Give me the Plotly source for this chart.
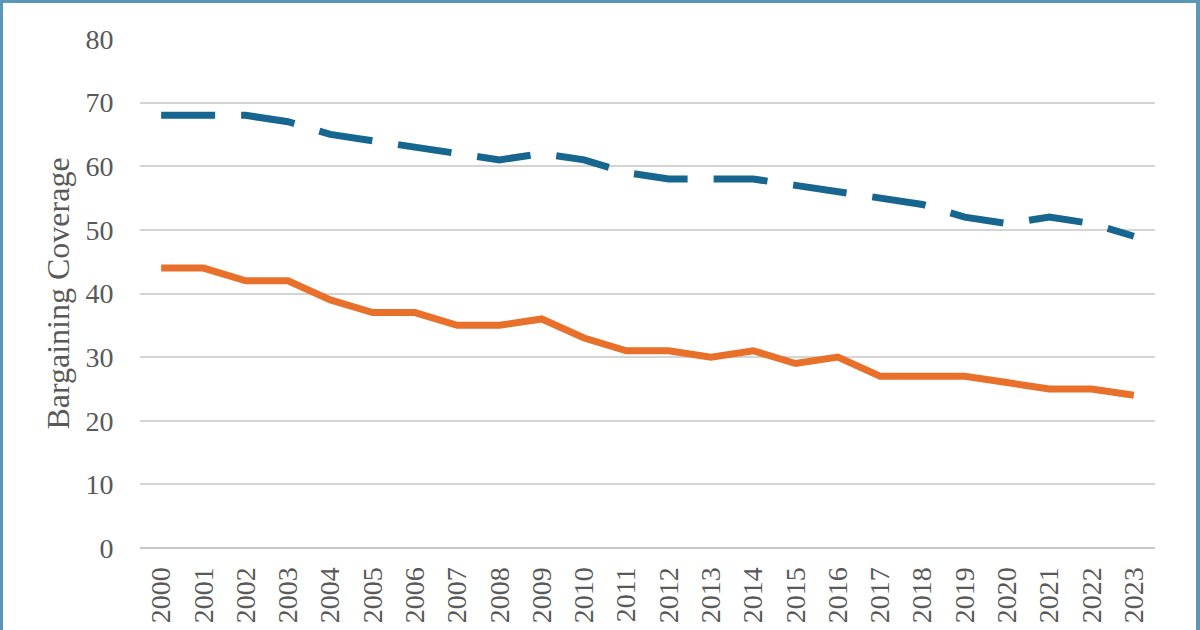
import plotly.graph_objects as go

years = [str(y) for y in range(2000, 2024)]
series_dashed = [68, 68, 68, 67, 65, 64, 63, 62, 61, 62, 61, 59, 58, 58, 58, 57, 56, 55, 54, 52, 51, 52, 51, 49]
series_solid = [44, 44, 42, 42, 39, 37, 37, 35, 35, 36, 33, 31, 31, 30, 31, 29, 30, 27, 27, 27, 26, 25, 25, 24]
y_ticks = [0, 10, 20, 30, 40, 50, 60, 70, 80]

W, H = 1200, 630
ML, MR, MT, MB = 140, 45, 39, 82
PW, PH = W - ML - MR, H - MT - MB

font_fam = "Liberation Serif, Times New Roman, serif"
text_col = "#595959"

fig = go.Figure()
fig.add_trace(go.Scatter(x=years, y=series_dashed, mode="lines",
                         line=dict(color="#17668F", width=7, dash="54px,26px"),
                         showlegend=False))
fig.add_trace(go.Scatter(x=years, y=series_solid, mode="lines",
                         line=dict(color="#E8702A", width=7),
                         showlegend=False))

# border around the figure (top, left, right)
def px_x(p):
    return (p - ML) / PW

def px_y(p):
    return (H - MB - p) / PH

border_col = "#5B97B9"
fig.add_shape(type="line", xref="paper", yref="paper", x0=px_x(0), x1=px_x(W), y0=px_y(1.5), y1=px_y(1.5),
              line=dict(color=border_col, width=3))
fig.add_shape(type="line", xref="paper", yref="paper", x0=px_x(1.5), x1=px_x(1.5), y0=px_y(0), y1=px_y(H + 10),
              line=dict(color=border_col, width=3))
fig.add_shape(type="line", xref="paper", yref="paper", x0=px_x(1198), x1=px_x(1198), y0=px_y(0), y1=px_y(H + 10),
              line=dict(color=border_col, width=4))

fig.update_layout(
    width=W, height=H,
    margin=dict(l=ML, r=MR, t=MT, b=MB, autoexpand=False),
    paper_bgcolor="white", plot_bgcolor="white",
    font=dict(family=font_fam, size=28, color=text_col),
    xaxis=dict(type="category", range=[-0.5, len(years) - 0.5], tickangle=-90, showgrid=False, showline=False,
               ticks="outside", ticklen=7, tickcolor="rgba(0,0,0,0)",
               tickfont=dict(size=28, family=font_fam, color=text_col), automargin=False),
    yaxis=dict(range=[0, 80], tickvals=y_ticks, showgrid=True, gridcolor="#D4D4D4", gridwidth=1.5,
               zeroline=True, zerolinecolor="#C8C8C8", zerolinewidth=2,
               ticks="outside", ticklen=20, tickcolor="rgba(0,0,0,0)",
               tickfont=dict(size=28, family=font_fam, color=text_col),
               title=dict(text="Bargaining Coverage", font=dict(size=32, family=font_fam, color=text_col), standoff=6),
               automargin=False),
)

fig.write_html("out.html")
